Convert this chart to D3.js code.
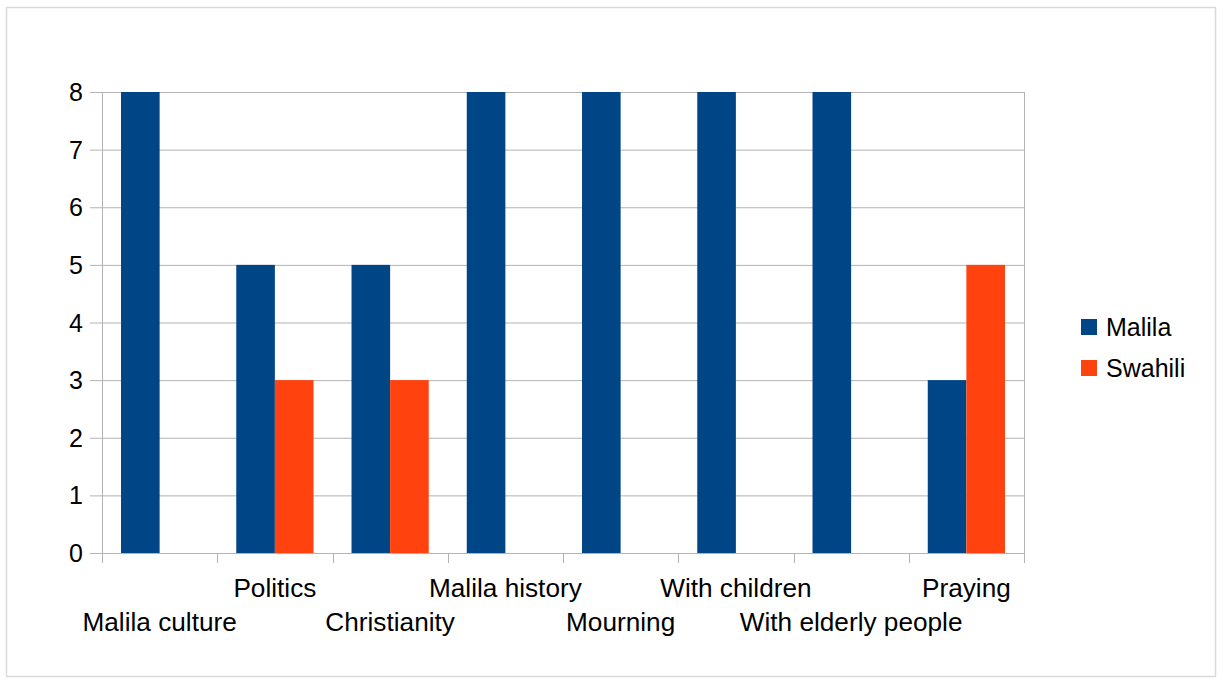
<!DOCTYPE html>
<html><head><meta charset="utf-8">
<script src="https://cdn.jsdelivr.net/npm/d3@7"></script>
<style>body{margin:0;background:#fff;}svg{display:block;font-family:"Liberation Sans",Arial,sans-serif;}</style>
</head><body>
<script>
const categories = ["Malila culture","Politics","Christianity","Malila history","Mourning","With children","With elderly people","Praying"];
const malila = [8,5,5,8,8,8,8,3];
const swahili = [0,3,3,0,0,0,0,5];
const seriesNames = ["Malila","Swahili"];
const colors = ["#004586","#ff420e"];
const yTicks = [0,1,2,3,4,5,6,7,8];

const W=1223,H=682;
const svg=d3.select("body").append("svg").attr("width",W).attr("height",H);
svg.append("rect").attr("x",6.5).attr("y",7.5).attr("width",1209).attr("height",669).attr("fill","#fff").attr("stroke","#d9d9d9").attr("stroke-width",1.5);

const L=102,R=1024,T=92,B=553;
const x=d3.scaleBand().domain(categories).range([L,R]).paddingInner(0.33).paddingOuter(0.165);
const x0=d3.scaleBand().domain(categories).range([L,R]);
const xs=d3.scaleBand().domain(seriesNames).range([0,x.bandwidth()]);
const y=d3.scaleLinear().domain([0,8]).range([B,T]);

// gridlines
svg.append("g").selectAll("line").data(yTicks).join("line")
 .attr("x1",90).attr("x2",R).attr("y1",d=>y(d)+0.5).attr("y2",d=>y(d)+0.5)
 .attr("stroke","#b3b3b3").attr("stroke-width",1);
// y-axis line
svg.append("line").attr("x1",L+0.5).attr("x2",L+0.5).attr("y1",T).attr("y2",B+10).attr("stroke","#b3b3b3");
svg.append("line").attr("x1",R+0.5).attr("x2",R+0.5).attr("y1",T).attr("y2",B).attr("stroke","#b3b3b3");
// x ticks at boundaries
const bounds=categories.map(c=>x0(c)).concat([R]);
svg.append("g").selectAll("line").data(bounds).join("line")
 .attr("x1",d=>Math.round(d)+0.5).attr("x2",d=>Math.round(d)+0.5).attr("y1",B).attr("y2",B+10)
 .attr("stroke","#b3b3b3");

// bars
const data=categories.map((c,i)=>({c,vals:[malila[i],swahili[i]]}));
const g=svg.append("g");
data.forEach(d=>{
  d.vals.forEach((v,j)=>{
    if(v>0) g.append("rect").attr("x",x(d.c)+xs(seriesNames[j])).attr("width",xs.bandwidth())
      .attr("y",y(v)).attr("height",y(0)-y(v)).attr("fill",colors[j]);
  });
});

// y labels
svg.append("g").selectAll("text").data(yTicks).join("text")
 .attr("x",83).attr("y",d=>y(d)+9).attr("text-anchor","end").attr("font-size",25).attr("fill","#000").text(d=>d);

// x labels
svg.append("g").selectAll("text").data(categories).join("text")
 .attr("x",c=>x0(c)+x0.bandwidth()/2).attr("y",(c,i)=>i%2===0?631:597)
 .attr("text-anchor","middle").attr("font-size",26.2).attr("fill","#000").text(c=>c);

// legend
const lg=svg.append("g");
seriesNames.forEach((s,i)=>{
  lg.append("rect").attr("x",1081).attr("y",319+i*41).attr("width",16).attr("height",16).attr("fill",colors[i]);
  lg.append("text").attr("x",1106).attr("y",336+i*41).attr("font-size",25).attr("fill","#000").text(s);
});
</script>
</body></html>
